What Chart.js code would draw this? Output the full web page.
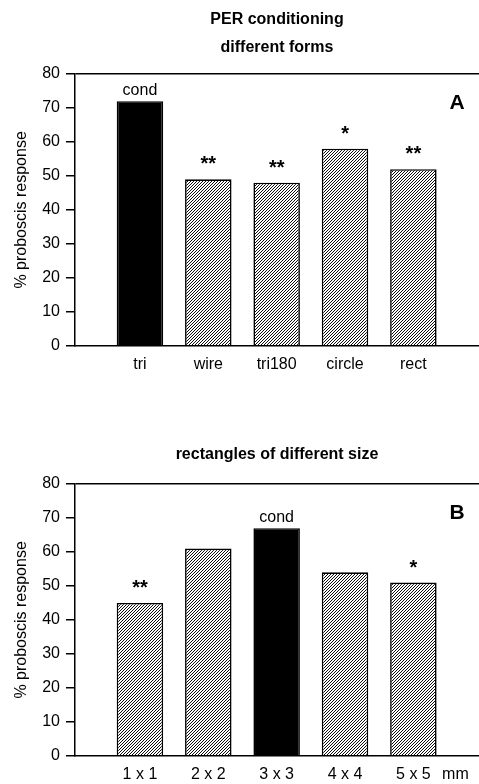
<!DOCTYPE html>
<html>
<head>
<meta charset="utf-8">
<script src="https://cdn.jsdelivr.net/npm/chart.js@4"></script>
<style>
  html, body { margin: 0; padding: 0; background: #fff; overflow: hidden; }
  .box { position: relative; width: 479px; height: 392px; }
</style>
</head>
<body>
<div class="box"><canvas id="chartA" width="479" height="392"></canvas></div>
<div class="box"><canvas id="chartB" width="479" height="392"></canvas></div>
<script>
var FONT = "'Liberation Sans', Arial, sans-serif";

// panel A : different forms
var formsLabels = ['tri', 'wire', 'tri180', 'circle', 'rect'];
var formsValues = [72, 49, 48, 58, 52];
var formsMarks = ['cond', '**', '**', '*', '**'];

// panel B : rectangles of different size
var sizeLabels = ['1 x 1', '2 x 2', '3 x 3', '4 x 4', '5 x 5'];
var sizeValues = [45, 61, 67, 54, 51];
var sizeMarks = ['**', '', 'cond', '', '*'];
var sizeUnit = 'mm';

var yMin = 0, yMax = 80, yStep = 10;

// diagonal hatching for the test stimuli
function makeHatch() {
  var c = document.createElement('canvas');
  c.width = 3; c.height = 3;
  var g = c.getContext('2d');
  g.fillStyle = '#fff';
  g.fillRect(0, 0, 3, 3);
  g.strokeStyle = '#000';
  g.lineWidth = 0.95;
  g.beginPath();
  g.moveTo(-1, 4); g.lineTo(4, -1);
  g.moveTo(-1, 1); g.lineTo(1, -1);
  g.moveTo(2, 4); g.lineTo(4, 2);
  g.stroke();
  return g.createPattern(c, 'repeat');
}
var hatch = makeHatch();

var marksPlugin = {
  id: 'marks',
  afterDatasetsDraw: function(chart, args, opts) {
    var ctx = chart.ctx;
    var bars = chart.getDatasetMeta(0).data;
    ctx.save();
    ctx.fillStyle = '#000';
    ctx.textAlign = 'center';
    ctx.textBaseline = 'alphabetic';
    bars.forEach(function(bar, i) {
      var m = opts.marks[i];
      if (!m) return;
      if (m === 'cond') {
        ctx.font = '16px ' + FONT;
        ctx.fillText(m, bar.x, bar.y - 6);
      } else {
        ctx.font = 'bold 20px ' + FONT;
        ctx.fillText(m, bar.x, bar.y - 9);
      }
    });
    var area = chart.chartArea;
    ctx.font = 'bold 21px ' + FONT;
    ctx.textBaseline = 'middle';
    ctx.fillText(opts.letter, area.right - 22, area.top + 29);
    if (opts.unit) {
      var xs = chart.scales.x;
      ctx.font = '16px ' + FONT;
      ctx.fillText(opts.unit, xs.getPixelForValue(opts.labels.length) + 42, xs.top + 18.5);
    }
    ctx.restore();
  }
};

function makeChart(id, labels, values, marks, title, letter, unit, pad) {
  var colors = marks.map(function(m) { return m === 'cond' ? '#000' : hatch; });
  return new Chart(document.getElementById(id), {
    type: 'bar',
    data: {
      datasets: [{
        data: values.map(function(v, i) { return {x: i + 1, y: v}; }),
        backgroundColor: colors,
        borderColor: '#000',
        borderWidth: 1.6,
        categoryPercentage: 1,
        barPercentage: 0.68
      }]
    },
    plugins: [marksPlugin],
    options: {
      responsive: false,
      animation: false,
      layout: { padding: { left: 0, right: 0, top: 0, bottom: pad.bottom } },
      plugins: {
        legend: { display: false },
        tooltip: { enabled: false },
        title: {
          display: true,
          fullSize: false,
          text: title,
          color: '#000',
          font: { family: FONT, size: 16, weight: 'bold', lineHeight: 1.75 },
          padding: { top: pad.titleTop, bottom: pad.titleBottom }
        },
        marks: { marks: marks, letter: letter, unit: unit, labels: labels }
      },
      scales: {
        x: {
          type: 'linear',
          offset: false,
          min: 0.05,
          max: 5.96,
          grid: { display: false, drawTicks: true, tickLength: 9 },
          border: { display: true, color: '#000', width: 1.5 },
          afterBuildTicks: function(s) {
            s.ticks = labels.map(function(l, i) { return {value: i + 1}; });
          },
          ticks: {
            color: '#000',
            padding: 0,
            maxRotation: 0,
            autoSkip: false,
            font: { family: FONT, size: 16 },
            callback: function(v) { return labels[v - 1]; }
          }
        },
        y: {
          min: yMin,
          max: yMax,
          afterFit: function(s) { s.width = 75; },
          grid: {
            color: function(c) { return c.tick && c.tick.value === yMax ? '#000' : 'rgba(0,0,0,0)'; },
            tickColor: '#000',
            tickLength: 9,
            lineWidth: 1.5,
            tickWidth: 1.5
          },
          border: { display: true, color: '#000', width: 1.5 },
          ticks: {
            stepSize: yStep,
            color: '#000',
            padding: 6,
            font: { family: FONT, size: 16 }
          },
          title: {
            display: true,
            text: '% proboscis response',
            color: '#000',
            font: { family: FONT, size: 16 },
            padding: { top: 12, bottom: 0 }
          }
        }
      }
    }
  });
}

makeChart('chartA', formsLabels, formsValues, formsMarks,
  ['PER conditioning', 'different forms'], 'A', null,
  { bottom: 18, titleTop: 6, titleBottom: 12 });
makeChart('chartB', sizeLabels, sizeValues, sizeMarks,
  'rectangles of different size', 'B', sizeUnit,
  { bottom: 0, titleTop: 49, titleBottom: 15 });
</script>
</body>
</html>
